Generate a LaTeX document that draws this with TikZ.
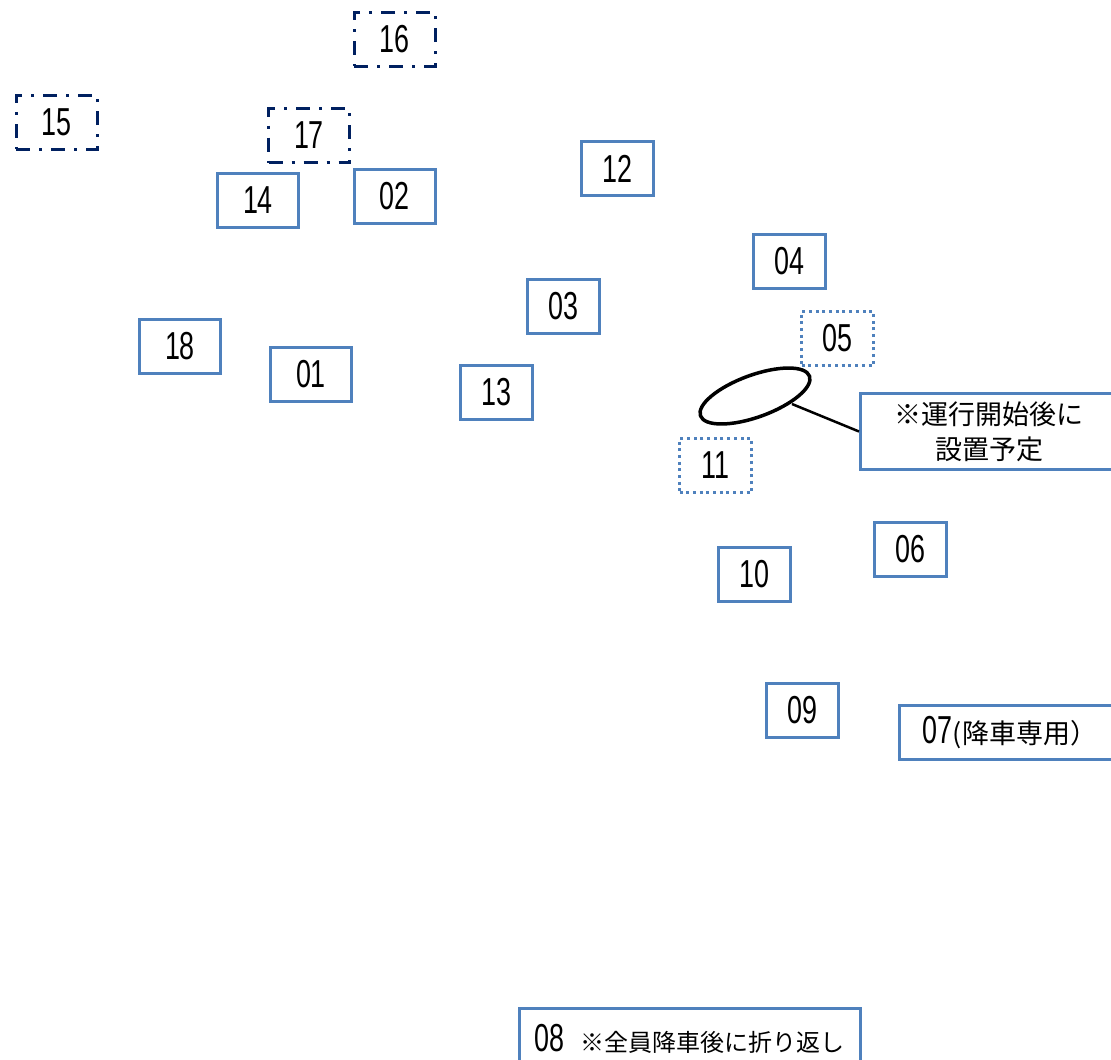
\documentclass[tikz,border=0pt]{standalone}
\usepackage{fontspec}
\setmainfont{Noto Sans CJK JP}
\newfontfamily\numfont[FakeStretch=0.69]{Liberation Sans}
\newfontfamily\jpfont{Noto Sans CJK JP}
\usetikzlibrary{shapes.geometric}
\definecolor{boxblue}{RGB}{79,129,189}
\definecolor{navyblue}{RGB}{0,32,96}
\tikzset{
  stopbox/.style={draw=boxblue, line width=3pt, minimum height=54pt, inner sep=0pt,
    font=\numfont\fontsize{39}{40}\selectfont},
  widebox/.style={minimum width=81pt},
  narrowbox/.style={minimum width=72pt},
  plannedbox/.style={stopbox, widebox, draw=navyblue, dash pattern=on 14pt off 9pt on 3pt off 9pt},
  futurebox/.style={stopbox, narrowbox, dash pattern=on 3pt off 3.7pt},
  jp/.style={font=\jpfont\fontsize{#1}{#1}\selectfont},
}
\begin{document}
\begin{tikzpicture}[x=1pt,y=-1pt]
\useasboundingbox (0,0) rectangle (1111,1060);
% planned (dash-dot) stops
\node[plannedbox] (s16) at (394.5,39) {16};
\node[plannedbox] (s15) at (56.5,122) {15};
\node[plannedbox] (s17) at (309,135.5) {17};
% regular stops
\node[stopbox, widebox] (s14) at (258,200.5) {14};
\node[stopbox, widebox] (s02) at (394.5,196.5) {02};
\node[stopbox, narrowbox] (s12) at (617.5,168.5) {12};
\node[stopbox, narrowbox] (s04) at (789.5,261.5) {04};
\node[stopbox, narrowbox] (s03) at (563,306.5) {03};
\node[stopbox, widebox] (s18) at (180,346.5) {18};
\node[stopbox, widebox] (s01) at (311,374) {01};
\node[stopbox, narrowbox] (s13) at (496.5,392) {13};
\node[stopbox, narrowbox] (s06) at (910.5,549.5) {06};
\node[stopbox, narrowbox] (s10) at (754.5,574.5) {10};
\node[stopbox, narrowbox] (s09) at (802,710.5) {09};
% future stops (dotted)
\node[futurebox] (s05) at (837.5,338.5) {05};
\node[futurebox] (s11) at (715.5,465.5) {11};
% callout
\node[draw, line width=3.5pt, ellipse, minimum width=116pt, minimum height=42pt, inner sep=0pt, rotate=20] (ell) at (755,396) {};
\node[stopbox, minimum width=257pt, minimum height=76pt, align=center, jp=27] (call) at (989,431.5) {※運行開始後に\\[8pt]設置予定};
\coordinate (ep) at (792,404);
\draw[line width=2.5pt] (ep) -- (call.west);
% 07
\node[stopbox, minimum width=221pt] (s07) at (1010,732.5) {07{\jpfont\fontsize{27}{27}\selectfont (降車専用）}};
% 08
\node[stopbox, anchor=north west, minimum width=341pt, minimum height=62pt] (s08) at (517.5,1006.5) {08\hspace{16pt}{\jpfont\fontsize{24}{24}\selectfont ※全員降車後に折り返し}};
\end{tikzpicture}
\end{document}
